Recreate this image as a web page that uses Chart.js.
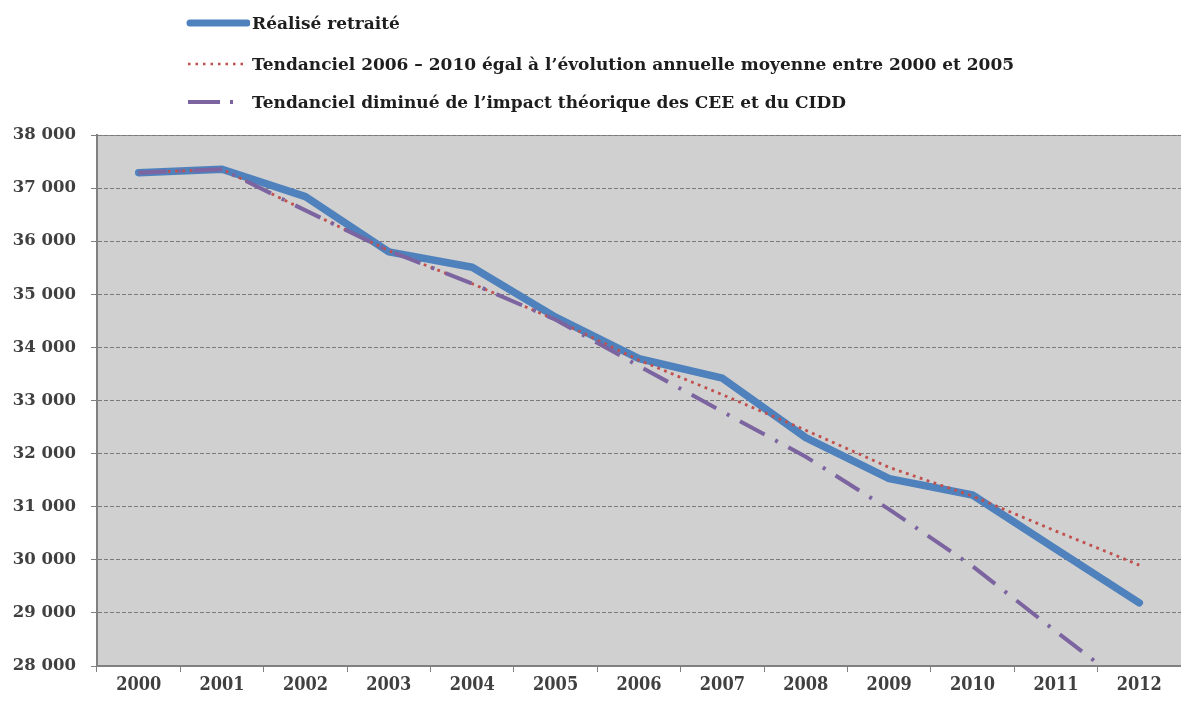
<!DOCTYPE html>
<html>
<head>
<meta charset="utf-8">
<script src="https://cdn.jsdelivr.net/npm/chart.js@4.4.0/dist/chart.umd.min.js"></script>
<style>
  html, body { margin: 0; padding: 0; background: #ffffff; overflow: hidden; }
  #wrap { position: relative; width: 1181px; height: 704px; }
  #chart { position: absolute; left: 0; top: 0; }
  .leg { position: absolute; left: 186px; height: 24px; display: flex; align-items: center;
         font-family: "DejaVu Serif", serif; font-weight: bold; font-size: 17px; color: #1e1e1e; white-space: nowrap; }
  .leg svg { display: block; margin-right: 2px; }
</style>
</head>
<body>
<div id="wrap">
  <canvas id="chart" width="1181" height="704"></canvas>
  <div class="leg" style="top:11px;">
    <svg width="64" height="12"><line x1="4" y1="6" x2="61" y2="6" stroke="#4f81bd" stroke-width="7" stroke-linecap="round"/></svg>
    <span>Réalisé retraité</span>
  </div>
  <div class="leg" style="top:52px;">
    <svg width="64" height="12"><line x1="2" y1="6" x2="58" y2="6" stroke="#c0504d" stroke-width="2.5" stroke-dasharray="2.5 5"/></svg>
    <span>Tendanciel 2006 – 2010 égal à l’évolution annuelle moyenne entre 2000 et 2005</span>
  </div>
  <div class="leg" style="top:90px;">
    <svg width="64" height="12"><line x1="2" y1="6" x2="58" y2="6" stroke="#7c64a0" stroke-width="4" stroke-dasharray="32 10 3 30"/></svg>
    <span>Tendanciel diminué de l’impact théorique des CEE et du CIDD</span>
  </div>
</div>
<script>
const years = ['2000','2001','2002','2003','2004','2005','2006','2007','2008','2009','2010','2011','2012'];
const realiseRetraite = [37290, 37355, 36840, 35800, 35510, 34570, 33790, 33420, 32300, 31530, 31220, 30200, 29190];
const tendanciel      = [37290, 37355, 36580, 35820, 35200, 34520, 33760, 33110, 32440, 31740, 31200, 30540, 29900];
const tendancielCEE   = [37290, 37355, 36580, 35820, 35200, 34520, 33650, 32790, 31940, 30950, 29880, 28650, 27450];
const seriesNames = ['Réalisé retraité',
  'Tendanciel 2006 – 2010 égal à l’évolution annuelle moyenne entre 2000 et 2005',
  'Tendanciel diminué de l’impact théorique des CEE et du CIDD'];
const yMin = 28000, yMax = 38000, yStep = 1000;

const fmt = v => String(v).replace(/\B(?=(\d{3})+(?!\d))/g, ' ');

const plotBg = {
  id: 'plotBg',
  beforeDraw(chart) {
    const {ctx, chartArea: a} = chart;
    ctx.save();
    ctx.fillStyle = '#d0d0d0';
    ctx.fillRect(a.left, a.top, a.right - a.left, a.bottom - a.top);
    ctx.strokeStyle = '#8a8a8a';
    ctx.lineWidth = 1;
    ctx.beginPath();
    ctx.moveTo(a.left, a.top + 0.5);
    ctx.lineTo(a.right, a.top + 0.5);
    ctx.stroke();
    ctx.restore();
  }
};

new Chart(document.getElementById('chart'), {
  type: 'line',
  data: {
    labels: years,
    datasets: [
      { label: seriesNames[0], data: realiseRetraite, borderColor: '#4f81bd', borderWidth: 7.5,
        borderCapStyle: 'round', borderJoinStyle: 'round', pointRadius: 0, tension: 0, order: 3 },
      { label: seriesNames[1], data: tendanciel, borderColor: '#c0504d', borderWidth: 2.8,
        borderDash: [2.8, 4.5], pointRadius: 0, tension: 0, order: 2 },
      { label: seriesNames[2], data: tendancielCEE, borderColor: '#7c64a0', borderWidth: 4,
        borderDash: [28, 12, 3, 12], pointRadius: 0, tension: 0, order: 1 }
    ]
  },
  options: {
    responsive: false,
    animation: false,
    devicePixelRatio: 1,
    layout: { padding: { top: 135, left: 0, right: 0, bottom: 0 } },
    plugins: { legend: { display: false }, tooltip: { enabled: false } },
    scales: {
      x: {
        offset: true,
        afterFit: s => { s.height = 38; },
        grid: { display: true, drawOnChartArea: false, drawTicks: true, tickLength: 6, offset: true,
                tickColor: '#808080', tickWidth: 1 },
        border: { display: true, color: '#808080', width: 2 },
        ticks: { color: '#404040', padding: 3, maxRotation: 0, autoSkip: false,
                 font: { family: '"DejaVu Serif Condensed", "DejaVu Serif", serif', weight: 'bold', size: 18 } }
      },
      y: {
        min: yMin, max: yMax,
        afterFit: s => { s.width = 97; },
        grid: { color: '#7a7a7a', lineWidth: 1, drawTicks: true, tickLength: 6, tickColor: '#808080',
                tickBorderDash: [] },
        border: { display: true, color: '#808080', width: 2, dash: [4, 2] },
        ticks: { stepSize: yStep, color: '#404040', padding: 15, callback: v => fmt(v),
                 font: { family: 'DejaVu Serif', weight: 'bold', size: 16.5 } }
      }
    }
  },
  plugins: [plotBg]
});
</script>
</body>
</html>
